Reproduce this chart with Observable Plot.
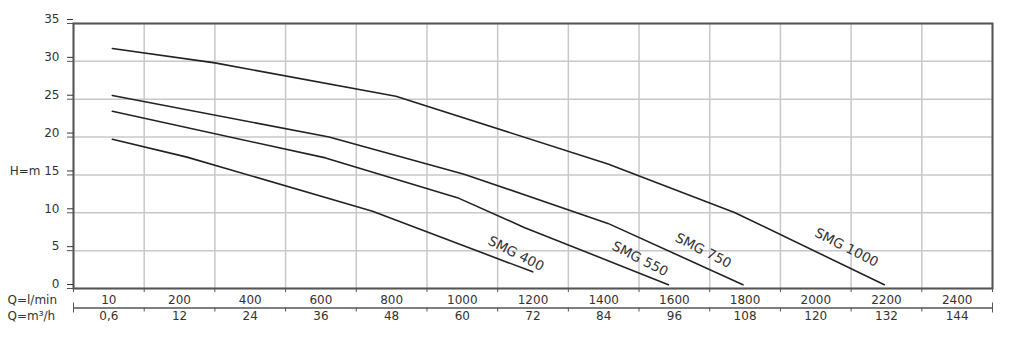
<!DOCTYPE html>
<html><head><meta charset="utf-8">
<script src="https://cdn.jsdelivr.net/npm/d3@7"></script>
<script src="https://cdn.jsdelivr.net/npm/@observablehq/plot@0.6"></script>
<style>body{margin:0;background:#fff} svg{display:block}</style>
</head><body><div id="chart"></div>
<script>
// Flow axis (l/min) tick values and labels; the first column is labelled "10"
const flowTicks = [0, 200, 400, 600, 800, 1000, 1200, 1400, 1600, 1800, 2000, 2200, 2400];
const flowLabels = ["10", "200", "400", "600", "800", "1000", "1200", "1400", "1600", "1800", "2000", "2200", "2400"];
const m3hLabels = ["0,6", "12", "24", "36", "48", "60", "72", "84", "96", "108", "120", "132", "144"];
const colBounds = [-100, 100, 300, 500, 700, 900, 1100, 1300, 1500, 1700, 1900, 2100, 2300, 2500];
const headTicks = [0, 5, 10, 15, 20, 25, 30, 35];

// Pump curves: flow Q (l/min) vs head H (m)
const smg400Q = [10, 221, 746, 1199];
const smg400H = [19.7, 17.35, 10.2, 2.2];
const smg550Q = [10, 613, 986, 1175, 1583];
const smg550H = [23.4, 17.25, 12.0, 8.07, 0.5];
const smg750Q = [10, 623, 1005, 1412, 1794];
const smg750H = [25.5, 20.0, 15.1, 8.6, 0.5];
const smg1000Q = [10, 300, 812, 1412, 1770, 2194];
const smg1000H = [31.7, 29.8, 25.4, 16.45, 10.05, 0.5];

const labelNames = ["SMG 400", "SMG 550", "SMG 750", "SMG 1000"];
const labelQ = [1152, 1503, 1682, 2087];
const labelH = [4.6, 3.9, 5.0, 5.4];

const seriesDefs = [
  ["SMG 400", smg400Q, smg400H],
  ["SMG 550", smg550Q, smg550H],
  ["SMG 750", smg750Q, smg750H],
  ["SMG 1000", smg1000Q, smg1000H]
];
const curves = seriesDefs.flatMap(([name, qs, hs]) => qs.map((q, i) => ({name, q, h: hs[i]})));
const labels = labelNames.map((name, i) => ({name, q: labelQ[i], h: labelH[i]}));

const font = "'DejaVu Sans', Arial, sans-serif";
const fs = 12;
const chart = Plot.plot({
  width: 1024,
  height: 353,
  marginLeft: 73,
  marginRight: 32,
  marginTop: 23,
  marginBottom: 65,
  style: {fontFamily: font, fontSize: fs + "px", color: "#333", background: "#fff"},
  x: {domain: [-100, 2500]},
  y: {domain: [0, 35]},
  marks: [
    Plot.gridX(colBounds, {stroke: "#c8c8c8", strokeOpacity: 1, strokeWidth: 1.5}),
    Plot.gridY(headTicks, {stroke: "#c8c8c8", strokeOpacity: 1, strokeWidth: 1.5}),
    Plot.frame({stroke: "#555", strokeWidth: 2}),
    Plot.axisY(headTicks, {tickSize: 6, text: null, stroke: "#555", label: null}),
    Plot.axisY(headTicks, {tickSize: 6, tickPadding: 8, dy: -4, fill: "#333", fontSize: fs, label: null,
      tickFormat: d => d === 15 ? "H=m 15" : String(d)}),
    Plot.axisX(colBounds, {tickSize: 4, text: null, stroke: "#555", label: null}),
    Plot.axisX(flowTicks, {tickSize: 0, tickPadding: 6.5, fill: "#333", fontSize: fs, label: null,
      tickFormat: d => flowLabels[flowTicks.indexOf(d)]}),
    Plot.ruleY([0], {x1: -100, x2: 2500, dy: 19.5, stroke: "#555", strokeWidth: 1.5}),
    Plot.axisX(colBounds, {tickSize: 4, text: null, dy: 19.5, stroke: "#555", label: null}),
    Plot.axisX([-100, 2500], {tickSize: 10, text: null, dy: 14.5, stroke: "#555", label: null}),
    Plot.axisX(flowTicks, {tickSize: 0, tickPadding: 6.5, dy: 16, fill: "#333", fontSize: fs, label: null,
      tickFormat: d => m3hLabels[flowTicks.indexOf(d)]}),
    Plot.line(curves, {x: "q", y: "h", z: "name", stroke: "#222", strokeWidth: 1.6}),
    Plot.text(labels, {x: "q", y: "h", text: "name", rotate: 27, fontSize: 13.5, fill: "#333"}),
    Plot.text(["Q=l/min"], {frameAnchor: "bottom-left", textAnchor: "start", lineAnchor: "top", dx: -66, dy: 6.5, fontSize: fs, fill: "#333"}),
    Plot.text(["Q=m³/h"], {frameAnchor: "bottom-left", textAnchor: "start", lineAnchor: "top", dx: -66, dy: 22.5, fontSize: fs, fill: "#333"})
  ]
});
document.getElementById("chart").append(chart);
</script>
</body></html>
